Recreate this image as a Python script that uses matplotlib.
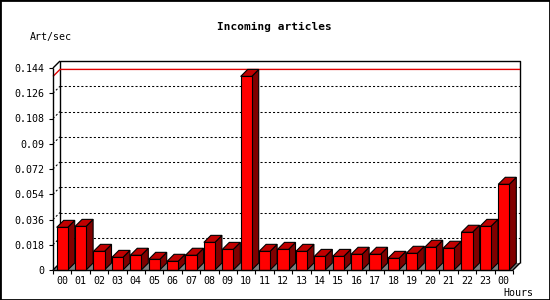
import matplotlib
matplotlib.use("Agg")
import matplotlib.pyplot as plt
from matplotlib.patches import Polygon, Rectangle

hours = ["00", "01", "02", "03", "04", "05", "06", "07", "08", "09", "10", "11",
         "12", "13", "14", "15", "16", "17", "18", "19", "20", "21", "22", "23", "00"]
rates = [0.0304, 0.0311, 0.0133, 0.0090, 0.0105, 0.0076, 0.0062, 0.0105, 0.0197,
         0.0147, 0.1380, 0.0133, 0.0147, 0.0133, 0.0097, 0.0097, 0.0112, 0.0112,
         0.0083, 0.0119, 0.0162, 0.0155, 0.0269, 0.0311, 0.0611]
y_ticks = [0, 0.018, 0.036, 0.054, 0.072, 0.09, 0.108, 0.126, 0.144]
y_labels = ["0", "0.018", "0.036", "0.054", "0.072", "0.09", "0.108", "0.126", "0.144"]

W, H, DPI = 550, 300, 100
DEPTH = 7  # px offset of the back wall
FONT = "DejaVu Sans Mono"

fig = plt.figure(figsize=(W / DPI, H / DPI), dpi=DPI)
fig.patch.set_facecolor("white")

# front plane of the 3d box
ax = fig.add_axes([53 / W, 30 / H, 460 / W, 202 / H])
n = len(rates)
ymax = y_ticks[-1]
ax.set_xlim(-0.5, n - 0.5)
ax.set_ylim(0, ymax)
ax.set_facecolor("none")
for s in ax.spines.values():
    s.set_visible(False)

# depth offset expressed in data units
dx = DEPTH / (460 / n)
dy = DEPTH / 202 * ymax
x0, x1 = -0.5, n - 0.5
kw = dict(clip_on=False, solid_capstyle="butt")

# floor
ax.add_patch(Polygon([(x0, 0), (x1, 0), (x1 + dx, dy), (x0 + dx, dy)],
                     closed=True, facecolor="#808080", edgecolor="none",
                     zorder=1, clip_on=False))

# back wall and side walls
ax.plot([x0 + dx, x0 + dx, x1 + dx, x1 + dx], [dy, ymax + dy, ymax + dy, dy],
        color="black", lw=1, zorder=2, **kw)
ax.plot([x0, x0 + dx], [ymax, ymax + dy], color="black", lw=1, zorder=2, **kw)
ax.plot([x0, x0 + dx], [0, dy], color="black", lw=1, zorder=2, **kw)
ax.plot([x1, x1 + dx], [0, dy], color="black", lw=1, zorder=2, **kw)

# dotted grid on back wall and left wall
for v in y_ticks[1:-1]:
    ax.plot([x0 + dx, x1 + dx], [v + dy, v + dy], color="black", lw=0.75,
            dashes=(2, 2), zorder=2, **kw)
    ax.plot([x0, x0 + dx], [v, v + dy], color="black", lw=0.75,
            dashes=(2, 2), zorder=2, **kw)

# max line in red
peak = max(rates)
ax.plot([x0, x0 + dx, x1 + dx], [peak, peak + dy, peak + dy], color="#e00000",
        lw=1, zorder=2.5, **kw)

# bars
bw = 0.6
for i, v in enumerate(rates):
    a, b = i - bw / 2, i + bw / 2
    ax.add_patch(Polygon([(b, 0), (b + dx, dy), (b + dx, v + dy), (b, v)],
                         closed=True, facecolor="#800000", edgecolor="black",
                         lw=0.8, zorder=3, clip_on=False))
    ax.add_patch(Polygon([(a, v), (b, v), (b + dx, v + dy), (a + dx, v + dy)],
                         closed=True, facecolor="#c00000", edgecolor="black",
                         lw=0.8, zorder=3, clip_on=False))
    ax.add_patch(Rectangle((a, 0), bw, v, facecolor="#ff0000",
                           edgecolor="black", lw=0.8, zorder=3.5, clip_on=False))

# front axis lines
ax.plot([x0, x0], [0, ymax], color="black", lw=1, zorder=4, **kw)
ax.plot([x0, x1], [0, 0], color="black", lw=1, zorder=4, **kw)

# ticks
ax.set_yticks(y_ticks)
ax.set_yticklabels(y_labels, fontfamily=FONT, fontsize=7.2)
ax.tick_params(axis="y", length=3, width=0.8, pad=3, direction="out")
ax.set_xticks([k - 0.5 for k in range(n + 1)])
ax.set_xticklabels([])
ax.set_xticks(range(n), minor=True)
ax.set_xticklabels(hours, minor=True, fontfamily=FONT, fontsize=7.2)
ax.tick_params(axis="x", which="major", length=3, width=0.8, direction="out")
ax.tick_params(axis="x", which="minor", length=0, pad=4)

# texts
fig.text(274 / W, 1 - 27 / H, "Incoming articles", ha="center", va="center",
         fontfamily=FONT, fontsize=8, fontweight="bold")
fig.text(30 / W, 1 - 37 / H, "Art/sec", ha="left", va="center",
         fontfamily=FONT, fontsize=7.2)
fig.text(533 / W, 1 - 293 / H, "Hours", ha="right", va="center",
         fontfamily=FONT, fontsize=7.2)

# outer frame
fig.patches.append(Rectangle((0, 0), 1, 1, transform=fig.transFigure,
                             fill=False, edgecolor="black", lw=2))

fig.savefig("out.png", dpi=DPI, facecolor="white")
